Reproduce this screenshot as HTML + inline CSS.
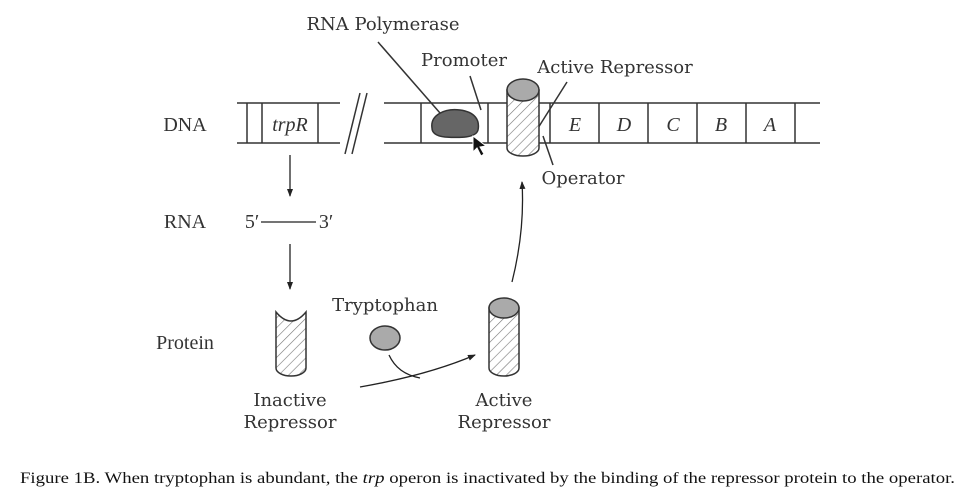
<!DOCTYPE html>
<html><head><meta charset="utf-8"><style>
html,body{margin:0;padding:0;background:#fff;width:979px;height:497px;overflow:hidden}
.d{font-family:"DejaVu Serif",serif;fill:#333}
.l{font-family:"Liberation Serif",serif;fill:#333}
</style></head><body>
<svg width="979" height="497" viewBox="0 0 979 497" xmlns="http://www.w3.org/2000/svg">
<defs>
<pattern id="h" width="7" height="7" patternUnits="userSpaceOnUse" patternTransform="rotate(45)">
<rect width="7" height="7" fill="#fff"/><line x1="0" y1="0" x2="0" y2="7" stroke="#777" stroke-width="1.2"/>
</pattern>
<marker id="a" markerWidth="8" markerHeight="8" refX="7" refY="4" orient="auto" markerUnits="userSpaceOnUse">
<path d="M0,1 L8,4 L0,7 z" fill="#222"/></marker>
</defs>
<g stroke="#333" stroke-width="1.5" fill="none">
<line x1="237" y1="103" x2="340" y2="103"/><line x1="237" y1="143" x2="340" y2="143"/>
<line x1="247" y1="103" x2="247" y2="143"/><line x1="262" y1="103" x2="262" y2="143"/><line x1="318" y1="103" x2="318" y2="143"/>
<line x1="345" y1="154" x2="360" y2="93"/><line x1="352" y1="154" x2="367" y2="93"/>
<line x1="384" y1="103" x2="820" y2="103"/><line x1="384" y1="143" x2="820" y2="143"/>
<line x1="421" y1="103" x2="421" y2="143"/><line x1="488" y1="103" x2="488" y2="143"/>
<line x1="550" y1="103" x2="550" y2="143"/><line x1="599" y1="103" x2="599" y2="143"/>
<line x1="648" y1="103" x2="648" y2="143"/><line x1="697" y1="103" x2="697" y2="143"/>
<line x1="746" y1="103" x2="746" y2="143"/><line x1="795" y1="103" x2="795" y2="143"/>
<line x1="378" y1="42" x2="440" y2="113"/>
<line x1="470" y1="76" x2="481" y2="110"/>
<line x1="567" y1="82" x2="538" y2="128"/>
<line x1="543" y1="136" x2="553" y2="165"/>
</g>
<path d="M432,128 C430,115 445,108 460,110 C475,112 480,120 478,130 C476,138 460,138 445,137 C436,136 432,133 432,128 z" fill="#666" stroke="#333" stroke-width="1.5"/>
<path d="M473,136 L473,152 L477,148 L481,156 L484,154 L480,147 L486,146 z" fill="#111" stroke="#fff" stroke-width="1"/>
<path d="M507,90 L507,148 A16,8 0 0 0 539,148 L539,90 z" fill="url(#h)" stroke="#333" stroke-width="1.5"/>
<ellipse cx="523" cy="90" rx="16" ry="11" fill="#aaa" stroke="#333" stroke-width="1.5"/>
<g stroke="#222" stroke-width="1.3" fill="none">
<line x1="290" y1="155" x2="290" y2="196" marker-end="url(#a)"/>
<line x1="290" y1="244" x2="290" y2="289" marker-end="url(#a)"/>
<line x1="261" y1="222" x2="316" y2="222"/>
<path d="M512,282 C520,250 524,215 522,182" marker-end="url(#a)"/>
<path d="M360,387 C400,380 440,370 475,355" marker-end="url(#a)"/>
<path d="M389,355 C395,368 405,375 420,378"/>
</g>
<path d="M276,312 Q291,330 306,312 L306,368 A15,8 0 0 1 276,368 z" fill="url(#h)" stroke="#333" stroke-width="1.5"/>
<ellipse cx="385" cy="338" rx="15" ry="12" fill="#aaa" stroke="#333" stroke-width="1.5"/>
<path d="M489,308 L489,368 A15,8 0 0 0 519,368 L519,308 z" fill="url(#h)" stroke="#333" stroke-width="1.5"/>
<ellipse cx="504" cy="308" rx="15" ry="10" fill="#aaa" stroke="#333" stroke-width="1.5"/>
<g font-size="18" text-anchor="middle">
<text class="d" x="383" y="30">RNA Polymerase</text>
<text class="d" x="464" y="66">Promoter</text>
<text class="d" x="615" y="73">Active Repressor</text>
<text class="d" x="583" y="184">Operator</text>
<text class="d" x="385" y="311">Tryptophan</text>
<text class="d" x="290" y="406">Inactive</text>
<text class="d" x="290" y="428">Repressor</text>
<text class="d" x="504" y="406">Active</text>
<text class="d" x="504" y="428">Repressor</text>
</g>
<g font-size="20" text-anchor="middle">
<text class="l" x="185" y="131">DNA</text>
<text class="l" x="185" y="228">RNA</text>
<text class="l" x="185" y="349">Protein</text>
<text class="l" x="252" y="228">5′</text>
<text class="l" x="326" y="228">3′</text>
<g font-style="italic">
<text class="l" x="290" y="131">trpR</text>
<text class="l" x="575" y="131">E</text>
<text class="l" x="624" y="131">D</text>
<text class="l" x="673" y="131">C</text>
<text class="l" x="721" y="131">B</text>
<text class="l" x="770" y="131">A</text>
</g>
</g>
<text class="l" x="20" y="483" font-size="16" textLength="935" lengthAdjust="spacingAndGlyphs" style="fill:#111">Figure 1B. When tryptophan is abundant, the <tspan font-style="italic">trp</tspan> operon is inactivated by the binding of the repressor protein to the operator.</text>
</svg>
</body></html>
